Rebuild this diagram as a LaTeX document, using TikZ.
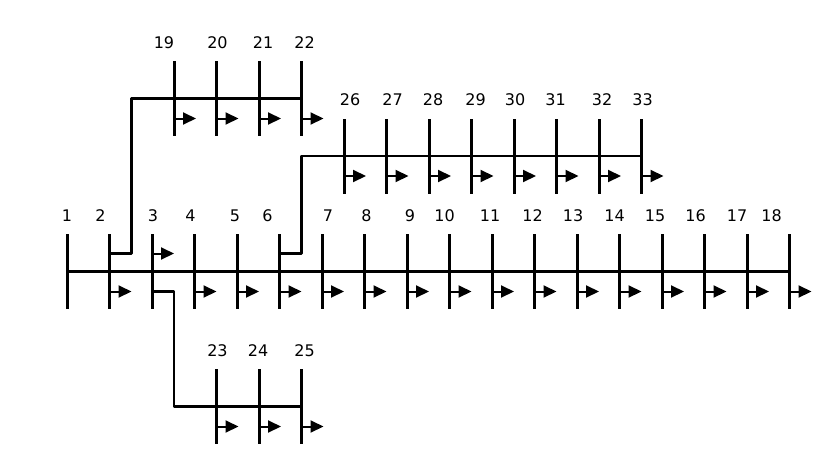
\documentclass[tikz,border=0pt]{standalone}
\usepackage{fontspec}
\setmainfont{DejaVu Sans}
\usetikzlibrary{positioning, arrows.meta}

\begin{document}
\begin{tikzpicture}
    [
        x=1pt, y=-1pt,
        node distance=42.5pt and 42.5pt, on grid, label distance=12.5pt,
        bus_node/.style={rectangle, fill=black, draw=none, inner sep=0pt, minimum width=3pt, minimum height=75pt},
        bus_label/.style={font=\fontsize{16}{18}\selectfont, inner sep=0pt, text height=12pt, text depth=0pt},
        feeder_line/.style={line width=2.6pt, color=black, line join=round},
        load_arrow/.style={-{Triangle[length=13pt, width=12pt]}, line width=2pt, color=black},
    ]
        \useasboundingbox (0,0) rectangle (834,458);
        % main feeder
        \node[bus_node, label={[bus_label]above:{1}}] (b1) at (67,271.5) {} ;
        \node[bus_node, label={[bus_label, xshift=-9pt]above:{2}}] (b2) [right = of b1] {} ;
        \node[bus_node, label={[bus_label, xshift=1pt]above:{3}}] (b3) [right = of b2] {} ;
        \node[bus_node, label={[bus_label, xshift=-4pt]above:{4}}] (b4) [right = of b3] {} ;
        \node[bus_node, label={[bus_label, xshift=-2pt]above:{5}}] (b5) [right = of b4] {} ;
        \node[bus_node, label={[bus_label, xshift=-12pt]above:{6}}] (b6) [right = of b5] {} ;
        \node[bus_node, label={[bus_label, xshift=6pt]above:{7}}] (b7) [right = of b6] {} ;
        \node[bus_node, label={[bus_label, xshift=2pt]above:{8}}] (b8) [right = of b7] {} ;
        \node[bus_node, label={[bus_label, xshift=3pt]above:{9}}] (b9) [right = of b8] {} ;
        \node[bus_node, label={[bus_label, xshift=-5pt]above:{10}}] (b10) [right = of b9] {} ;
        \node[bus_node, label={[bus_label, xshift=-2pt]above:{11}}] (b11) [right = of b10] {} ;
        \node[bus_node, label={[bus_label, xshift=-2pt]above:{12}}] (b12) [right = of b11] {} ;
        \node[bus_node, label={[bus_label, xshift=-4pt]above:{13}}] (b13) [right = of b12] {} ;
        \node[bus_node, label={[bus_label, xshift=-5pt]above:{14}}] (b14) [right = of b13] {} ;
        \node[bus_node, label={[bus_label, xshift=-7pt]above:{15}}] (b15) [right = of b14] {} ;
        \node[bus_node, label={[bus_label, xshift=-9pt]above:{16}}] (b16) [right = of b15] {} ;
        \node[bus_node, label={[bus_label, xshift=-10pt]above:{17}}] (b17) [right = of b16] {} ;
        \node[bus_node, label={[bus_label, xshift=-18pt]above:{18}}] (b18) [right = of b17] {} ;
        % upper branch
        \node[bus_node, label={[bus_label, xshift=-10pt]above:{19}}] (b19) at (174,98.5) {} ;
        \node[bus_node, label={[bus_label, xshift=1pt]above:{20}}] (b20) [right = of b19] {} ;
        \node[bus_node, label={[bus_label, xshift=4pt]above:{21}}] (b21) [right = of b20] {} ;
        \node[bus_node, label={[bus_label, xshift=3pt]above:{22}}] (b22) [right = of b21] {} ;
        % lower branch
        \node[bus_node, label={[bus_label, xshift=1pt]above:{23}}] (b23) at (216.5,406.5) {} ;
        \node[bus_node, label={[bus_label, xshift=-1pt]above:{24}}] (b24) [right = of b23] {} ;
        \node[bus_node, label={[bus_label, xshift=3pt]above:{25}}] (b25) [right = of b24] {} ;
        % middle branch
        \node[bus_node, label={[bus_label, xshift=6pt]above:{26}}] (b26) at (344,156) {} ;
        \node[bus_node, label={[bus_label, xshift=6pt]above:{27}}] (b27) [right = of b26] {} ;
        \node[bus_node, label={[bus_label, xshift=4pt]above:{28}}] (b28) [right = of b27] {} ;
        \node[bus_node, label={[bus_label, xshift=4pt]above:{29}}] (b29) [right = of b28] {} ;
        \node[bus_node, label={[bus_label, xshift=1pt]above:{30}}] (b30) [right = of b29] {} ;
        \node[bus_node, label={[bus_label, xshift=-1pt]above:{31}}] (b31) [right = of b30] {} ;
        \node[bus_node, label={[bus_label, xshift=3pt]above:{32}}] (b32) [right = of b31] {} ;
        \node[bus_node, label={[bus_label, xshift=1pt]above:{33}}] (b33) [right = of b32] {} ;
        % feeders
        \draw[feeder_line] (b1.center) -- (b18.center) ;
        \draw[feeder_line] ([yshift=18pt]b2.center) -- ++(22,0) |- (b22.center) ;
        \draw[feeder_line] ([yshift=-20pt]b3.center) -- ++(22,0) |- (b25.center) ;
        \draw[feeder_line] ([yshift=18pt]b6.center) -- ++(22,0) |- (b33.center) ;
        % loads
        \draw[load_arrow] ([yshift=-20pt]b2.center) -- ++(22,0) coordinate (t2) ;
        \draw[load_arrow] ([yshift=18pt]b3.center) -- ++(22,0) coordinate (t3) ;
        \draw[load_arrow] ([yshift=-20pt]b4.center) -- ++(22,0) coordinate (t4) ;
        \draw[load_arrow] ([yshift=-20pt]b5.center) -- ++(22,0) coordinate (t5) ;
        \draw[load_arrow] ([yshift=-20pt]b6.center) -- ++(22,0) coordinate (t6) ;
        \draw[load_arrow] ([yshift=-20pt]b7.center) -- ++(22,0) coordinate (t7) ;
        \draw[load_arrow] ([yshift=-20pt]b8.center) -- ++(22,0) coordinate (t8) ;
        \draw[load_arrow] ([yshift=-20pt]b9.center) -- ++(22,0) coordinate (t9) ;
        \draw[load_arrow] ([yshift=-20pt]b10.center) -- ++(22,0) coordinate (t10) ;
        \draw[load_arrow] ([yshift=-20pt]b11.center) -- ++(22,0) coordinate (t11) ;
        \draw[load_arrow] ([yshift=-20pt]b12.center) -- ++(22,0) coordinate (t12) ;
        \draw[load_arrow] ([yshift=-20pt]b13.center) -- ++(22,0) coordinate (t13) ;
        \draw[load_arrow] ([yshift=-20pt]b14.center) -- ++(22,0) coordinate (t14) ;
        \draw[load_arrow] ([yshift=-20pt]b15.center) -- ++(22,0) coordinate (t15) ;
        \draw[load_arrow] ([yshift=-20pt]b16.center) -- ++(22,0) coordinate (t16) ;
        \draw[load_arrow] ([yshift=-20pt]b17.center) -- ++(22,0) coordinate (t17) ;
        \draw[load_arrow] ([yshift=-20pt]b18.center) -- ++(22,0) coordinate (t18) ;
        \draw[load_arrow] ([yshift=-20pt]b19.center) -- ++(22,0) coordinate (t19) ;
        \draw[load_arrow] ([yshift=-20pt]b20.center) -- ++(22,0) coordinate (t20) ;
        \draw[load_arrow] ([yshift=-20pt]b21.center) -- ++(22,0) coordinate (t21) ;
        \draw[load_arrow] ([yshift=-20pt]b22.center) -- ++(22,0) coordinate (t22) ;
        \draw[load_arrow] ([yshift=-20pt]b23.center) -- ++(22,0) coordinate (t23) ;
        \draw[load_arrow] ([yshift=-20pt]b24.center) -- ++(22,0) coordinate (t24) ;
        \draw[load_arrow] ([yshift=-20pt]b25.center) -- ++(22,0) coordinate (t25) ;
        \draw[load_arrow] ([yshift=-20pt]b26.center) -- ++(22,0) coordinate (t26) ;
        \draw[load_arrow] ([yshift=-20pt]b27.center) -- ++(22,0) coordinate (t27) ;
        \draw[load_arrow] ([yshift=-20pt]b28.center) -- ++(22,0) coordinate (t28) ;
        \draw[load_arrow] ([yshift=-20pt]b29.center) -- ++(22,0) coordinate (t29) ;
        \draw[load_arrow] ([yshift=-20pt]b30.center) -- ++(22,0) coordinate (t30) ;
        \draw[load_arrow] ([yshift=-20pt]b31.center) -- ++(22,0) coordinate (t31) ;
        \draw[load_arrow] ([yshift=-20pt]b32.center) -- ++(22,0) coordinate (t32) ;
        \draw[load_arrow] ([yshift=-20pt]b33.center) -- ++(22,0) coordinate (t33) ;
    \end{tikzpicture}
\end{document}
